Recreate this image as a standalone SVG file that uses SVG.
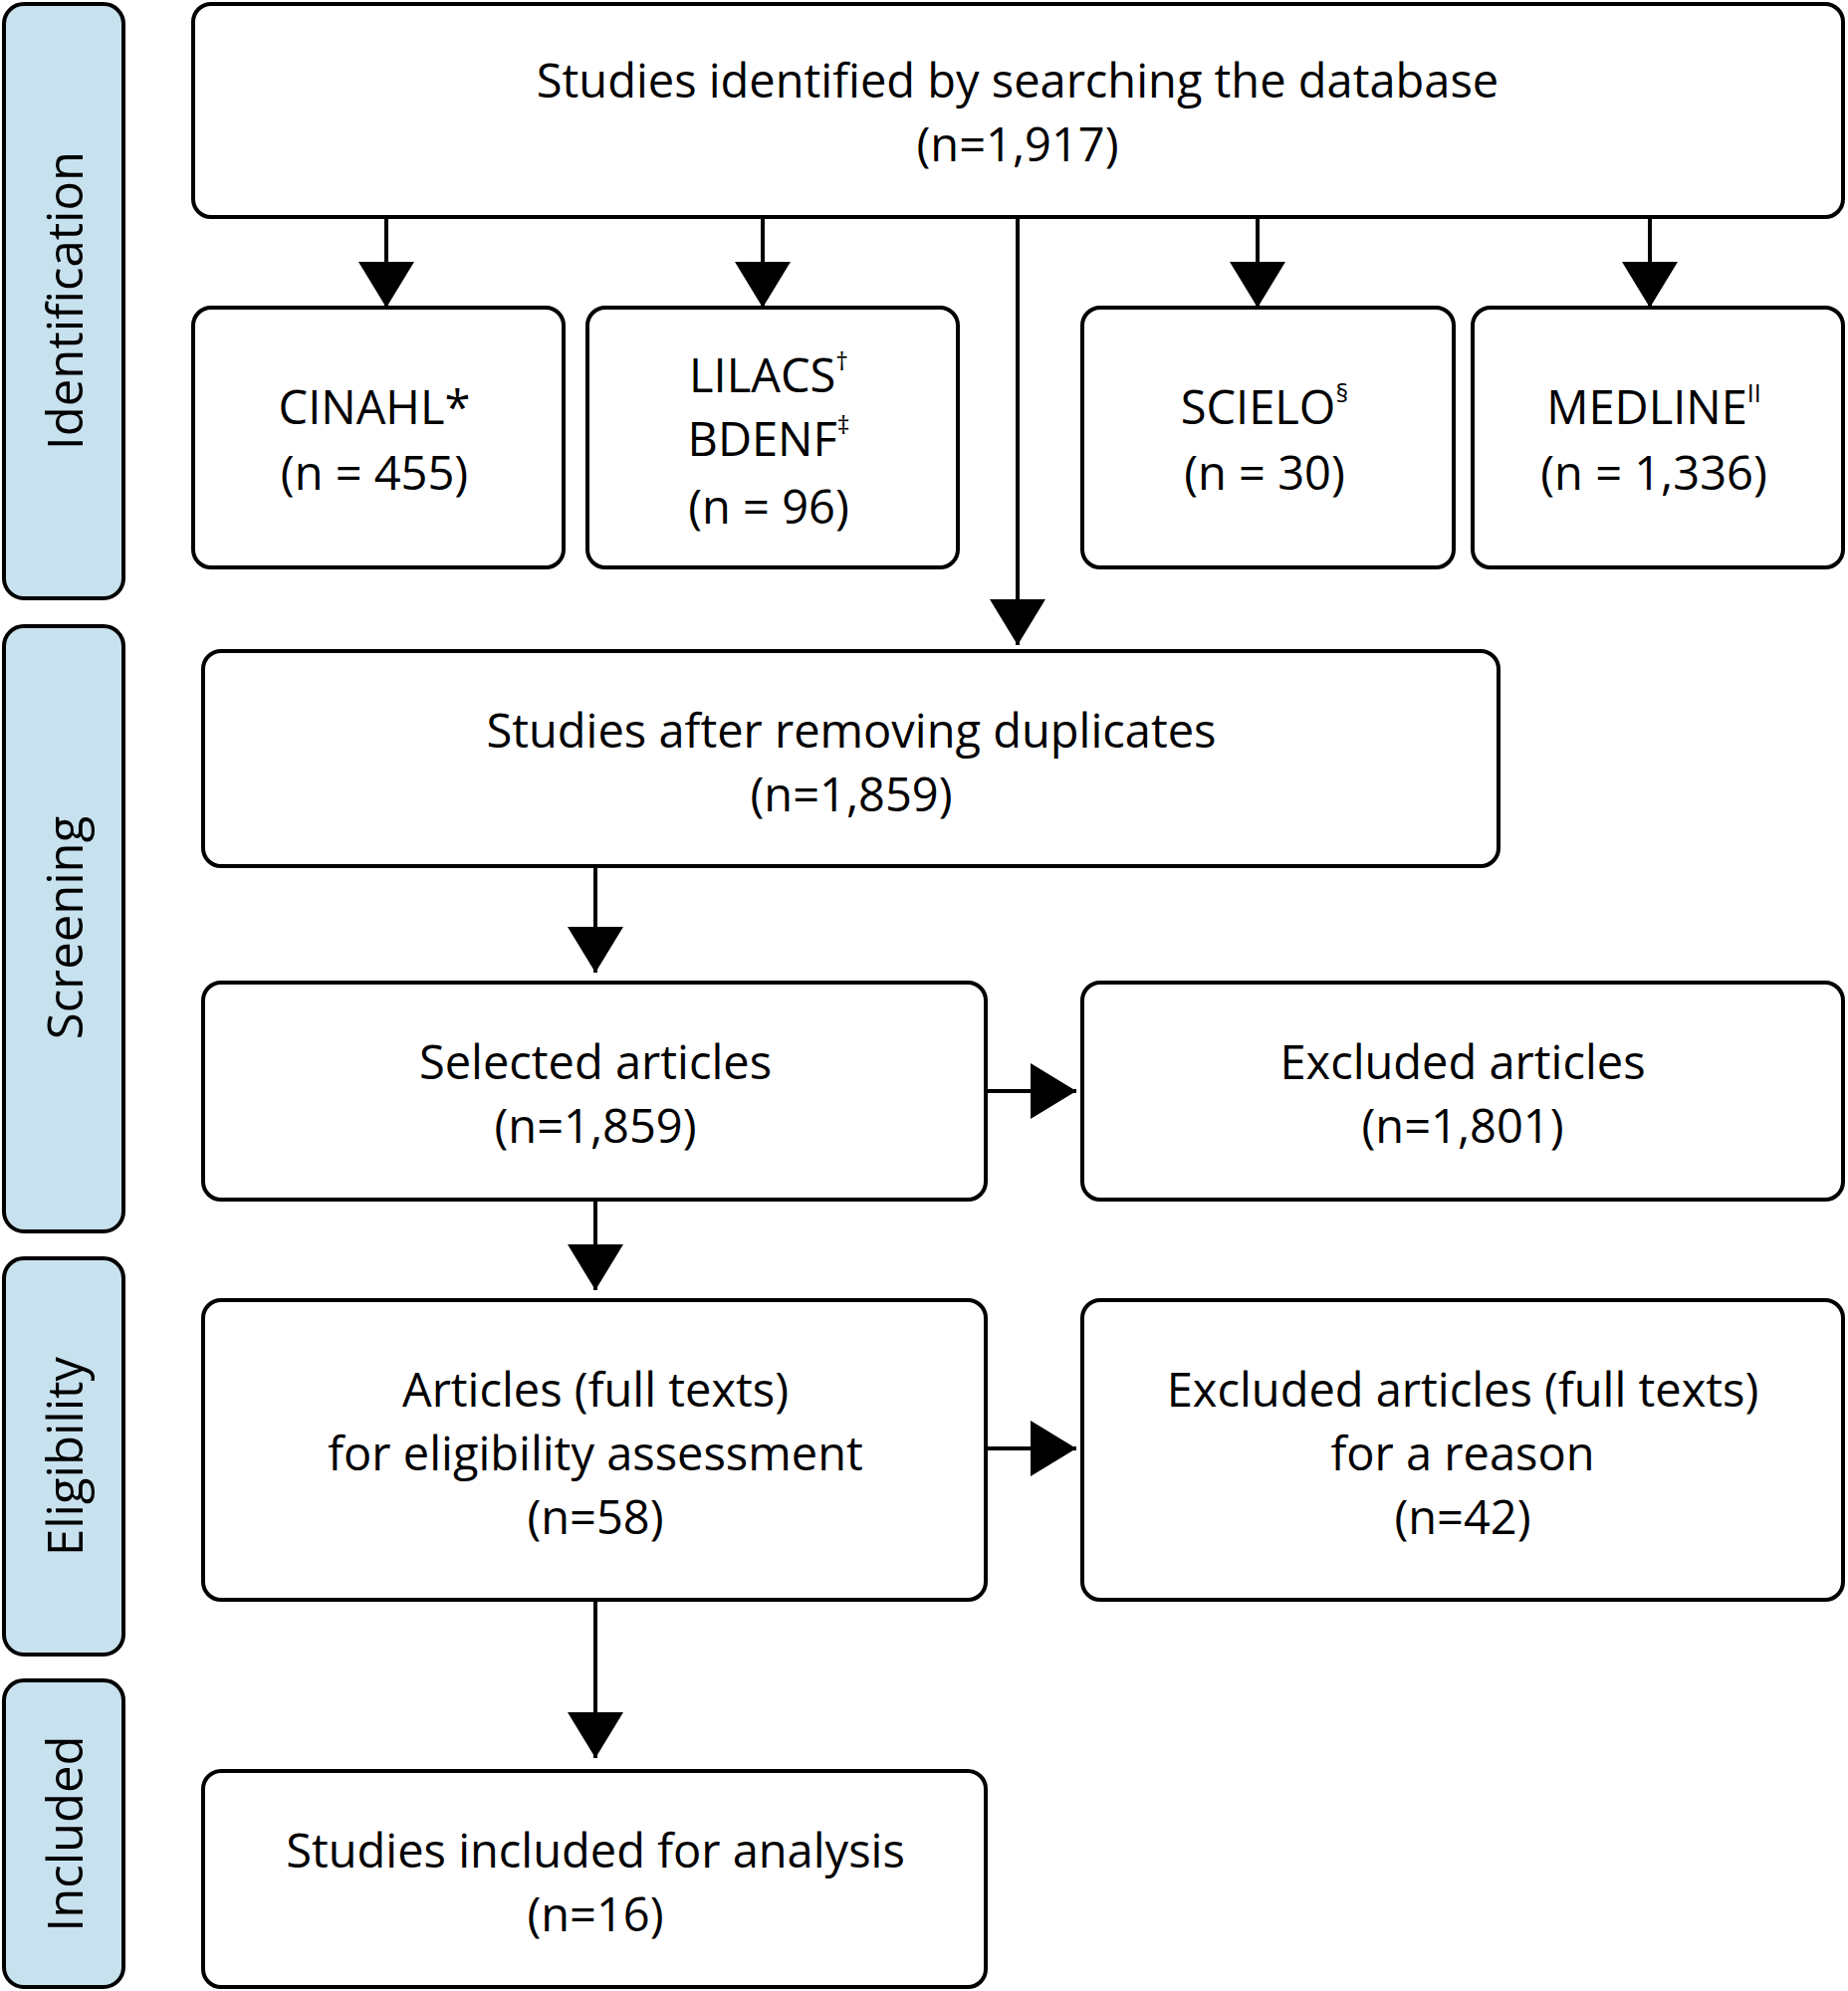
<svg xmlns="http://www.w3.org/2000/svg" width="1856" height="2000" viewBox="0 0 1856 2000">
<style>
.side{fill:#c8e1ee;stroke:#000;stroke-width:4}
.box{fill:#fff;stroke:#000;stroke-width:4}
text{font-family:"Open Sans","Noto Sans",sans-serif;font-size:47px;fill:#000;text-anchor:middle;dominant-baseline:central}
.lab{font-size:49px}
.sup{font-size:25px}
.c{stroke:#000;stroke-width:4;fill:none}
</style>
<defs>
<marker id="b" viewBox="0 0 46 56" refX="46" refY="28" markerWidth="46" markerHeight="56" markerUnits="userSpaceOnUse" orient="auto"><path d="M0,0L46,28L0,56Z" fill="#000"/></marker></defs>
<g id="side-identification"><rect class="side" x="4" y="4" width="120" height="597" rx="20"/><text class="lab" transform="translate(64,302) rotate(-90)">Identification</text></g>
<g id="side-screening"><rect class="side" x="4" y="629" width="120" height="608" rx="20"/><text class="lab" transform="translate(64,932) rotate(-90)">Screening</text></g>
<g id="side-eligibility"><rect class="side" x="4" y="1264" width="120" height="398" rx="20"/><text class="lab" transform="translate(64,1463) rotate(-90)">Eligibility</text></g>
<g id="side-included"><rect class="side" x="4" y="1688" width="120" height="308" rx="20"/><text class="lab" transform="translate(64,1842) rotate(-90)">Included</text></g>
<g id="connectors">
<line class="c" x1="388" y1="218" x2="388" y2="309" marker-end="url(#b)"/>
<line class="c" x1="766" y1="218" x2="766" y2="309" marker-end="url(#b)"/>
<line class="c" x1="1263" y1="218" x2="1263" y2="309" marker-end="url(#b)"/>
<line class="c" x1="1657" y1="218" x2="1657" y2="309" marker-end="url(#b)"/>
<line class="c" x1="1022" y1="218" x2="1022" y2="648" marker-end="url(#b)"/>
<line class="c" x1="598" y1="870" x2="598" y2="977" marker-end="url(#b)"/>
<line class="c" x1="990" y1="1096" x2="1081" y2="1096" marker-end="url(#b)"/>
<line class="c" x1="598" y1="1205" x2="598" y2="1296" marker-end="url(#b)"/>
<line class="c" x1="990" y1="1455" x2="1081" y2="1455" marker-end="url(#b)"/>
<line class="c" x1="598" y1="1607" x2="598" y2="1766" marker-end="url(#b)"/>
</g>
<g id="top"><rect class="box" x="194" y="4" width="1657" height="214" rx="18"/><text x="1022" y="80">Studies identified by searching the database</text><text x="1022" y="144">(n=1,917)</text></g>
<g id="cinahl"><rect class="box" x="194" y="309" width="372" height="261" rx="18"/><text x="376" y="408">CINAHL*</text><text x="376" y="474">(n = 455)</text></g>
<g id="lilacs"><rect class="box" x="590" y="309" width="372" height="261" rx="18"/><text x="772" y="376">LILACS<tspan class="sup" dy="-14">†</tspan></text><text x="772" y="440">BDENF<tspan class="sup" dy="-14">‡</tspan></text><text x="772" y="508">(n = 96)</text></g>
<g id="scielo"><rect class="box" x="1087" y="309" width="373" height="261" rx="18"/><text x="1270" y="408">SCIELO<tspan class="sup" dy="-14">§</tspan></text><text x="1270" y="474">(n = 30)</text></g>
<g id="medline"><rect class="box" x="1479" y="309" width="372" height="261" rx="18"/><text x="1661" y="408">MEDLINE<tspan class="sup" dy="-14">II</tspan></text><text x="1661" y="474">(n = 1,336)</text></g>
<g id="dedup"><rect class="box" x="204" y="654" width="1301" height="216" rx="18"/><text x="855" y="733">Studies after removing duplicates</text><text x="855" y="797">(n=1,859)</text></g>
<g id="selected"><rect class="box" x="204" y="987" width="786" height="218" rx="18"/><text x="598" y="1066">Selected articles</text><text x="598" y="1130">(n=1,859)</text></g>
<g id="excluded"><rect class="box" x="1087" y="987" width="764" height="218" rx="18"/><text x="1469" y="1066">Excluded articles</text><text x="1469" y="1130">(n=1,801)</text></g>
<g id="fulltext"><rect class="box" x="204" y="1306" width="786" height="301" rx="18"/><text x="598" y="1395">Articles (full texts)</text><text x="598" y="1459">for eligibility assessment</text><text x="598" y="1523">(n=58)</text></g>
<g id="excluded2"><rect class="box" x="1087" y="1306" width="764" height="301" rx="18"/><text x="1469" y="1395">Excluded articles (full texts)</text><text x="1469" y="1459">for a reason</text><text x="1469" y="1523">(n=42)</text></g>
<g id="included"><rect class="box" x="204" y="1779" width="786" height="217" rx="18"/><text x="598" y="1858">Studies included for analysis</text><text x="598" y="1922">(n=16)</text></g>
</svg>
